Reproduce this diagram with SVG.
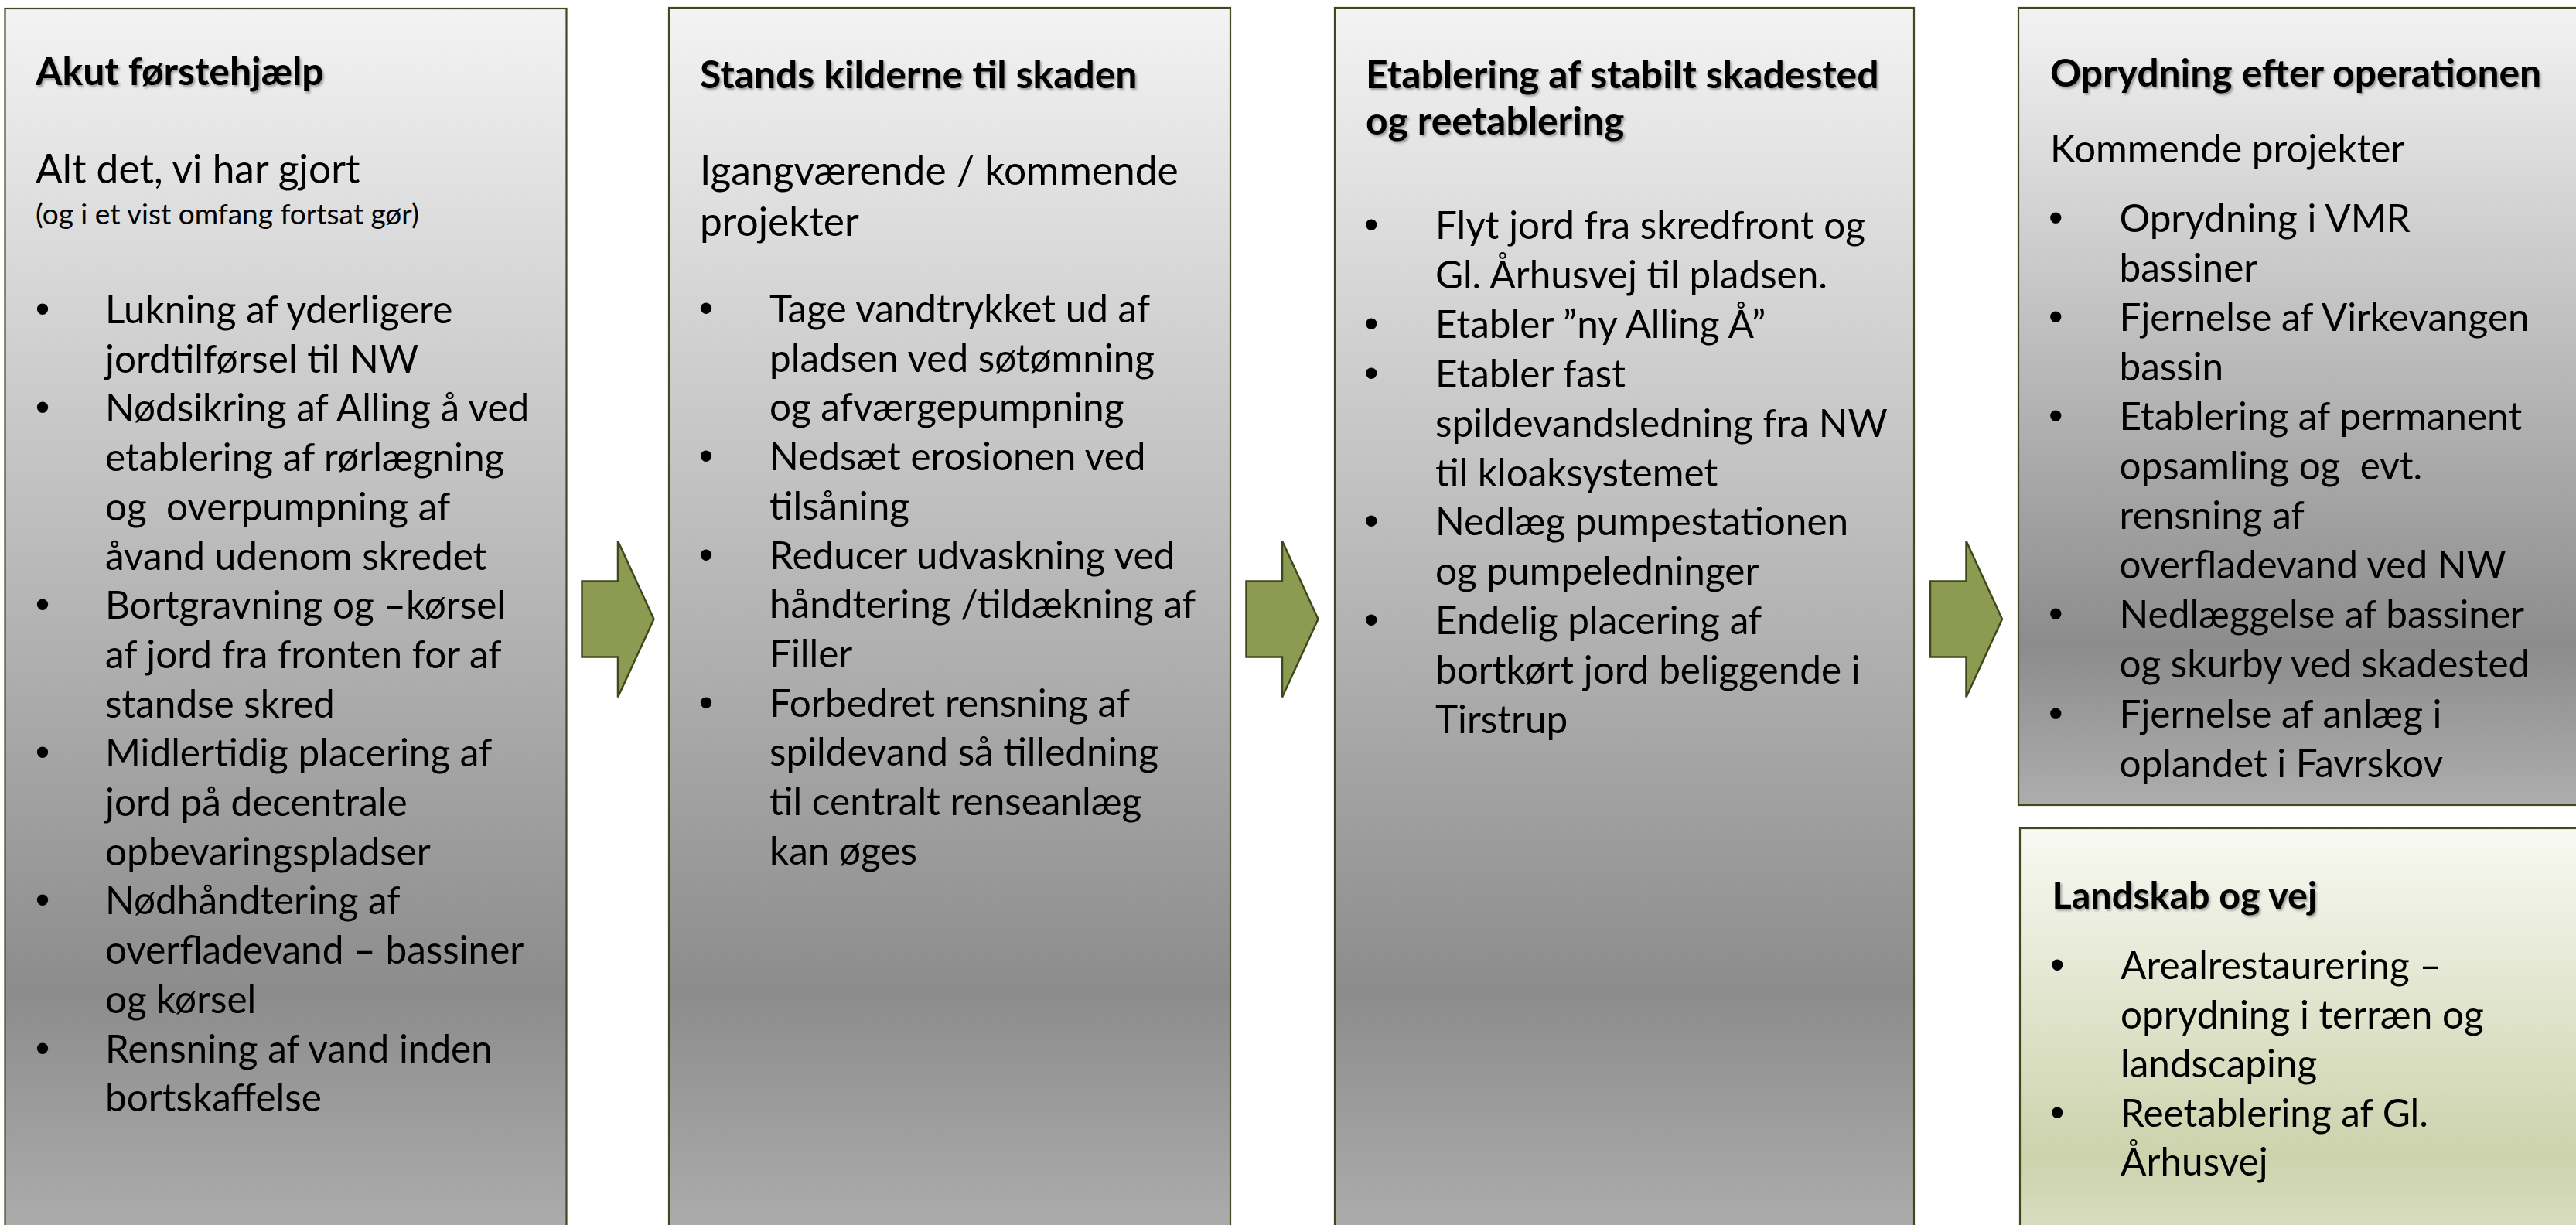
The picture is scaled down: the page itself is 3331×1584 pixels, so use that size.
<svg xmlns="http://www.w3.org/2000/svg" width="3331" height="1584" viewBox="0 0 3331 1584">
<style>
.box{stroke:#3f4a20;stroke-width:2.2}
.gray{fill:url(#gGray)}
.green{fill:url(#gGreen)}
.t{font-family:Lato,"Liberation Sans",sans-serif;font-weight:700;font-size:49.8px;fill:#000;filter:url(#shadow)}
.t2{font-size:48.5px}
.b{font-family:Lato,"Liberation Sans",sans-serif;font-size:49.5px;fill:#000}
.s{font-family:Lato,"Liberation Sans",sans-serif;font-size:51.5px;fill:#000}
.sm{font-family:Lato,"Liberation Sans",sans-serif;font-size:37px;fill:#000}
.bul{font-family:"Liberation Sans",Arial,sans-serif;font-size:53px;fill:#000}
.arrow{fill:#8c9a52;stroke:#3f4a1c;stroke-width:2.5;stroke-linejoin:miter}
</style>
<defs>
<linearGradient id="gGray" x1="0" y1="0" x2="0" y2="1">
<stop offset="0" stop-color="#f3f3f3"/>
<stop offset="0.8" stop-color="#8c8c8c"/>
<stop offset="1" stop-color="#adadad"/>
</linearGradient>
<linearGradient id="gGreen" x1="0" y1="0" x2="0" y2="1">
<stop offset="0" stop-color="#f8f9f3"/>
<stop offset="0.8" stop-color="#ccd3ac"/>
<stop offset="1" stop-color="#d9dec4"/>
</linearGradient>
<filter id="shadow" x="-5%" y="-20%" width="110%" height="150%">
<feDropShadow dx="2" dy="2.5" stdDeviation="1.5" flood-color="#000" flood-opacity="0.35"/>
</filter>
<path id="blockArrow" d="M0,-49 H46.5 V-101 L93,0 L46.5,101 V49 H0 Z"/>
</defs>
<rect width="3331" height="1584" fill="#ffffff"/>

<g id="node-akut">
<rect class="box gray" x="6.5" y="11" width="726" height="1590"/>
<text class="t" x="46" y="110">Akut førstehjælp</text>
<text class="s" x="46" y="237">Alt det, vi har gjort</text>
<text class="sm" x="46" y="290">(og i et vist omfang fortsat gør)</text>
<text class="bul" x="45.7" y="418">•</text>
<text class="b" x="136" y="418">Lukning af yderligere</text>
<text class="b" x="136" y="481.7">jordtilførsel til NW</text>
<text class="bul" x="45.7" y="545.4">•</text>
<text class="b" x="136" y="545.4">Nødsikring af Alling å ved</text>
<text class="b" x="136" y="609">etablering af rørlægning</text>
<text class="b" x="136" y="672.8" xml:space="preserve">og  overpumpning af</text>
<text class="b" x="136" y="736.5">åvand udenom skredet</text>
<text class="bul" x="45.7" y="800">•</text>
<text class="b" x="136" y="800">Bortgravning og –kørsel</text>
<text class="b" x="136" y="864">af jord fra fronten for af</text>
<text class="b" x="136" y="927.6">standse skred</text>
<text class="bul" x="45.7" y="991">•</text>
<text class="b" x="136" y="991">Midlertidig placering af</text>
<text class="b" x="136" y="1055">jord på decentrale</text>
<text class="b" x="136" y="1118.7">opbevaringspladser</text>
<text class="bul" x="45.7" y="1182">•</text>
<text class="b" x="136" y="1182">Nødhåndtering af</text>
<text class="b" x="136" y="1246">overfladevand – bassiner</text>
<text class="b" x="136" y="1310">og kørsel</text>
<text class="bul" x="45.7" y="1373.5">•</text>
<text class="b" x="136" y="1373.5">Rensning af vand inden</text>
<text class="b" x="136" y="1437">bortskaffelse</text>
</g>

<g id="node-stands">
<rect class="box gray" x="865" y="10" width="726" height="1591"/>
<text class="t" x="905" y="114">Stands kilderne til skaden</text>
<text class="s" x="905" y="239">Igangværende / kommende</text>
<text class="s" x="905" y="304.5">projekter</text>
<text class="bul" x="903.7" y="417">•</text>
<text class="b" x="995" y="417">Tage vandtrykket ud af</text>
<text class="b" x="995" y="480.7">pladsen ved søtømning</text>
<text class="b" x="995" y="544.4">og afværgepumpning</text>
<text class="bul" x="903.7" y="608">•</text>
<text class="b" x="995" y="608">Nedsæt erosionen ved</text>
<text class="b" x="995" y="671.8">tilsåning</text>
<text class="bul" x="903.7" y="735.5">•</text>
<text class="b" x="995" y="735.5">Reducer udvaskning ved</text>
<text class="b" x="995" y="799">håndtering /tildækning af</text>
<text class="b" x="995" y="863">Filler</text>
<text class="bul" x="903.7" y="926.6">•</text>
<text class="b" x="995" y="926.6">Forbedret rensning af</text>
<text class="b" x="995" y="990">spildevand så tilledning</text>
<text class="b" x="995" y="1054">til centralt renseanlæg</text>
<text class="b" x="995" y="1117.7">kan øges</text>
</g>

<g id="node-etablering">
<rect class="box gray" x="1726" y="10" width="749" height="1591"/>
<text class="t" x="1766" y="114">Etablering af stabilt skadested</text>
<text class="t" x="1766" y="174">og reetablering</text>
<text class="bul" x="1764" y="309">•</text>
<text class="b" x="1856" y="309">Flyt jord fra skredfront og</text>
<text class="b" x="1856" y="373">Gl. Århusvej til pladsen.</text>
<text class="bul" x="1764" y="437">•</text>
<text class="b" x="1856" y="437">Etabler ”ny Alling Å”</text>
<text class="bul" x="1764" y="501">•</text>
<text class="b" x="1856" y="501">Etabler fast</text>
<text class="b" x="1856" y="565">spildevandsledning fra NW</text>
<text class="b" x="1856" y="628.5">til kloaksystemet</text>
<text class="bul" x="1764" y="692">•</text>
<text class="b" x="1856" y="692">Nedlæg pumpestationen</text>
<text class="b" x="1856" y="756">og pumpeledninger</text>
<text class="bul" x="1764" y="820">•</text>
<text class="b" x="1856" y="820">Endelig placering af</text>
<text class="b" x="1856" y="884">bortkørt jord beliggende i</text>
<text class="b" x="1856" y="948">Tirstrup</text>
</g>

<g id="node-oprydning">
<rect class="box gray" x="2610" y="10" width="740" height="1031"/>
<text class="t" x="2651" y="111.5">Oprydning efter operationen</text>
<text class="b" x="2651" y="209.6">Kommende projekter</text>
<text class="bul" x="2649" y="299.5">•</text>
<text class="b" x="2740.5" y="299.5">Oprydning i VMR</text>
<text class="b" x="2740.5" y="363.6">bassiner</text>
<text class="bul" x="2649" y="427.7">•</text>
<text class="b" x="2740.5" y="427.7">Fjernelse af Virkevangen</text>
<text class="b" x="2740.5" y="491.8">bassin</text>
<text class="bul" x="2649" y="556">•</text>
<text class="b" x="2740.5" y="556">Etablering af permanent</text>
<text class="b" x="2740.5" y="620" xml:space="preserve">opsamling og  evt.</text>
<text class="b" x="2740.5" y="684">rensning af</text>
<text class="b" x="2740.5" y="748">overfladevand ved NW</text>
<text class="bul" x="2649" y="812">•</text>
<text class="b" x="2740.5" y="812">Nedlæggelse af bassiner</text>
<text class="b" x="2740.5" y="876">og skurby ved skadested</text>
<text class="bul" x="2649" y="940.5">•</text>
<text class="b" x="2740.5" y="940.5">Fjernelse af anlæg i</text>
<text class="b" x="2740.5" y="1004.6">oplandet i Favrskov</text>
</g>

<g id="node-landskab">
<rect class="box green" x="2612" y="1071" width="740" height="530"/>
<text class="t t2" x="2653.5" y="1175">Landskab og vej</text>
<text class="bul" x="2651" y="1266">•</text>
<text class="b" x="2742" y="1266">Arealrestaurering –</text>
<text class="b" x="2742" y="1329.5">oprydning i terræn og</text>
<text class="b" x="2742" y="1393">landscaping</text>
<text class="bul" x="2651" y="1456.5">•</text>
<text class="b" x="2742" y="1456.5">Reetablering af Gl.</text>
<text class="b" x="2742" y="1520">Århusvej</text>
</g>

<g id="connectors">
<use href="#blockArrow" class="arrow" transform="translate(752.5,800.5)"/>
<use href="#blockArrow" class="arrow" transform="translate(1611.5,800.5)"/>
<use href="#blockArrow" class="arrow" transform="translate(2496,800.5)"/>
</g>
</svg>
